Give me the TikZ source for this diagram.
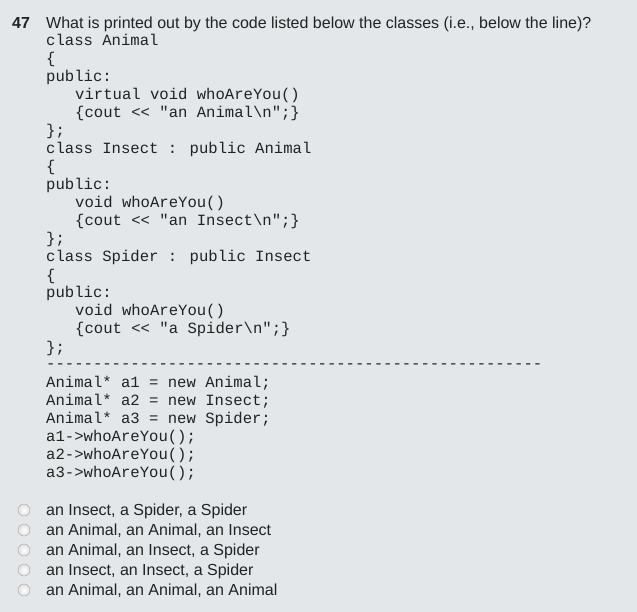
\documentclass[tikz,border=0pt]{standalone}
\usepackage{fontspec}
\setmainfont{Liberation Sans}
\newfontfamily\codefont{Liberation Mono}
\definecolor{bg}{HTML}{E3E7EA}
\definecolor{txt}{HTML}{222222}
\begin{document}
\begin{tikzpicture}[x=1pt,y=-1pt,
  q/.style={anchor=base west,inner sep=0pt,font=\fontsize{16}{18}\selectfont,text=txt},
  code/.style={anchor=base west,inner sep=0pt,font=\codefont\fontsize{15.6}{18}\selectfont,text=txt},
  radio/.style={circle,draw=black!35,inner sep=0pt,minimum size=12pt,inner color=white,outer color=black!12}]
\fill[bg] (0,0) rectangle (637,612);
\useasboundingbox (0,0) rectangle (637,612);
\node[q,font=\bfseries\fontsize{16}{18}\selectfont] (num) at (12,29) {47};
\node[q] (qt) at (46,29) {What is printed out by the code listed below the classes (i.e., below the line)?};
\foreach \t/\x/\y [count=\i] in {
 {class Animal}/46/46, {\{}/46/64, {public:}/46/82, {virtual void whoAreYou()}/75/100, {\{cout << "an Animal\textbackslash n";\}}/75/118, {\};}/46/136,
 {class Insect : public Animal}/46/154, {\{}/46/172, {public:}/46/190, {void whoAreYou()}/75/208, {\{cout << "an Insect\textbackslash n";\}}/75/226, {\};}/46/244,
 {class Spider : public Insect}/46/262, {\{}/46/280, {public:}/46/298, {void whoAreYou()}/75/316, {\{cout << "a Spider\textbackslash n";\}}/75/334, {\};}/46/352,
 {-----------------------------------------------------}/46/368,
 {Animal* a1 = new Animal;}/46/387, {Animal* a2 = new Insect;}/46/405, {Animal* a3 = new Spider;}/46/423,
 {a1->whoAreYou();}/46/441, {a2->whoAreYou();}/46/459, {a3->whoAreYou();}/46/477}
 \node[code] (c\i) at (\x,\y) {\t};
\foreach \t [count=\i] in {{an Insect, a Spider, a Spider},{an Animal, an Animal, an Insect},{an Animal, an Insect, a Spider},{an Insect, an Insect, a Spider},{an Animal, an Animal, an Animal}}{
 \node[radio] (r\i) at (24,490+20*\i) {};
 \node[q] (o\i) at (46,495+20*\i) {\t};
}
\end{tikzpicture}
\end{document}
